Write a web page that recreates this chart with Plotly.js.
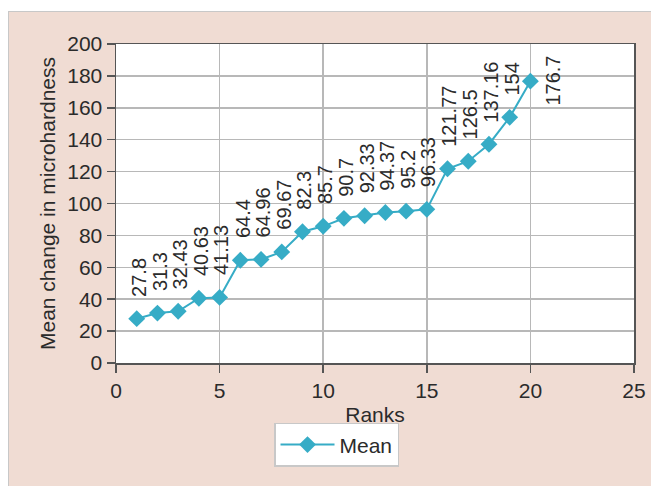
<!DOCTYPE html>
<html>
<head>
<meta charset="utf-8">
<script src="https://cdn.plot.ly/plotly-3.0.1.min.js"></script>
<style>
  html, body { margin: 0; padding: 0; background: #ffffff; width: 651px; height: 486px; overflow: hidden; }
  #chart { position: absolute; left: 8px; top: 11px; width: 643px; height: 475px; box-sizing: border-box; border-top: 1px solid #c8c8c8; border-left: 1px solid #c8c8c8; }
</style>
</head>
<body>
<div id="chart"></div>
<script>
const ranks = [1, 2, 3, 4, 5, 6, 7, 8, 9, 10, 11, 12, 13, 14, 15, 16, 17, 18, 19, 20];
const meanValues = [27.8, 31.3, 32.43, 40.63, 41.13, 64.4, 64.96, 69.67, 82.3, 85.7, 90.7, 92.33, 94.37, 95.2, 96.33, 121.77, 126.5, 137.16, 154, 176.7];
const seriesName = 'Mean';
const xTitle = 'Ranks';
const yTitle = 'Mean change in microhardness';

const textColor = '#2b2b2b';
const lineColor = '#36acc6';

const annotations = ranks.map((x, i) => {
  const last = i === ranks.length - 1;
  return {
    x: x, y: meanValues[i], xref: 'x', yref: 'y',
    text: String(meanValues[i]),
    textangle: -90,
    showarrow: false,
    font: { family: 'Liberation Sans, Arial, sans-serif', size: 20, color: textColor },
    xanchor: last ? 'left' : 'center',
    yanchor: last ? 'middle' : 'bottom',
    xshift: last ? 11 : 2,
    yshift: last ? 1 : 21,
    borderpad: 0
  };
});

const trace = {
  x: ranks, y: meanValues, name: seriesName,
  type: 'scatter', mode: 'lines+markers',
  line: { color: lineColor, width: 2 },
  marker: { symbol: 'diamond', size: 13, color: lineColor }
};

const axisCommon = {
  showline: true, linecolor: '#555555', linewidth: 1.5, mirror: true,
  showgrid: true, gridcolor: '#b8b8b8', gridwidth: 1.5,
  ticks: 'outside', ticklen: 8, tickwidth: 1.5, tickcolor: '#555555',
  zeroline: false,
  tickfont: { family: 'Liberation Sans, Arial, sans-serif', size: 21, color: textColor }
};

const layout = {
  width: 643, height: 475,
  paper_bgcolor: '#f0dcd3', plot_bgcolor: '#ffffff',
  margin: { l: 107, r: 18, t: 32, b: 124 },
  font: { family: 'Liberation Sans, Arial, sans-serif', size: 21, color: textColor },
  showlegend: true,
  legend: {
    x: 0.4257, xanchor: 'center', y: -0.188, yanchor: 'top',
    bgcolor: '#ffffff', bordercolor: '#c8c8c8', borderwidth: 1.5,
    itemwidth: 54,
    font: { size: 21, color: textColor }
  },
  xaxis: Object.assign({}, axisCommon, {
    range: [0, 25], dtick: 5, tick0: 0,
    title: { text: xTitle, font: { size: 21, color: textColor }, standoff: 6 }
  }),
  yaxis: Object.assign({}, axisCommon, {
    range: [0, 200], dtick: 20, tick0: 0,
    title: { text: yTitle, font: { size: 21, color: textColor }, standoff: 6 }
  }),
  annotations: annotations
};

Plotly.newPlot('chart', [trace], layout, { displayModeBar: false, staticPlot: true });
</script>
</body>
</html>
